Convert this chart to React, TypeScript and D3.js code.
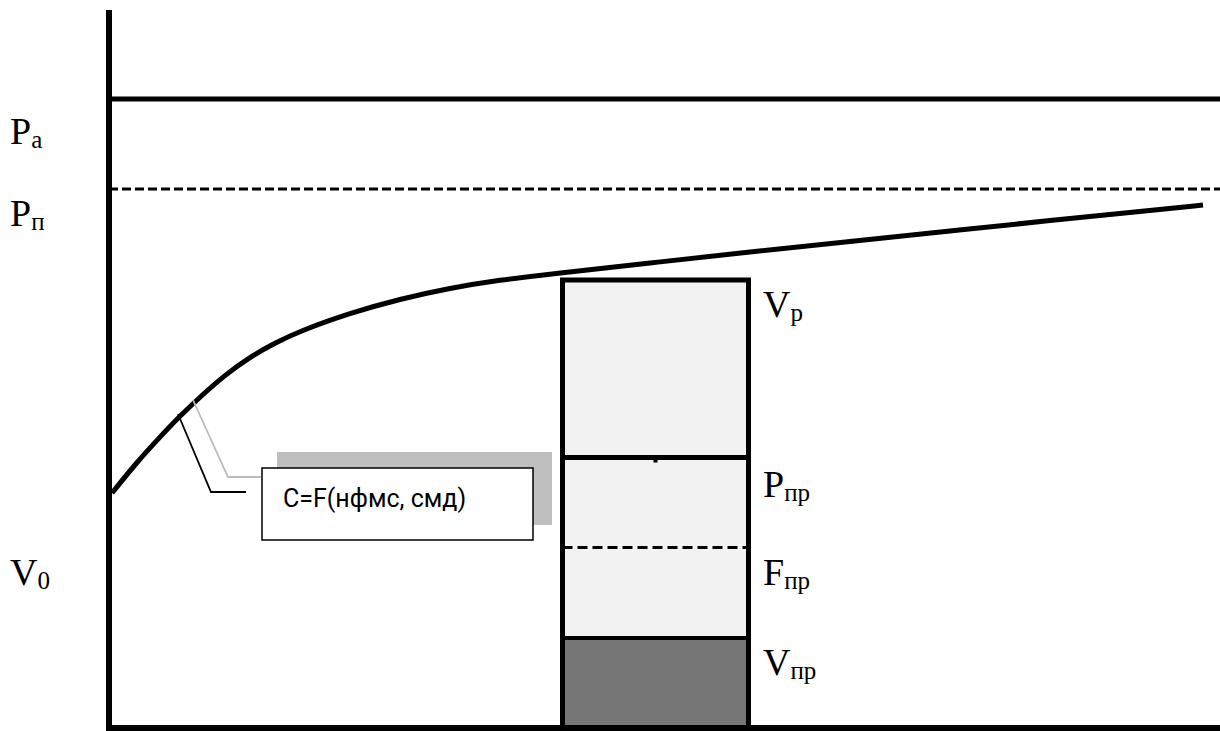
import React from "react";
import * as d3 from "d3";

// Curve C = F(нфмс, смд): x and value in chart units (origin at the axes corner)
const curveX = [3, 28, 51, 71, 91, 116, 141, 166, 191, 241, 291, 341, 391, 441, 541, 641, 741, 841, 941, 1041, 1094];
const curveV = [235, 266, 291, 312, 331, 353, 371, 385, 397, 415, 429, 440, 448, 454, 465, 476, 486.5, 497, 507.5, 517.5, 523];

// Levels
const levelPa = 629; // solid
const levelPn = 539; // dashed

// Column (box) segments: boundaries from top to bottom
const boxLeft = 453.5;
const boxRight = 639.5;
const boxBounds = [448, 270.5, 180.5, 90, 0];
const boxFillKinds = ["light", "light", "light", "dark"];

// Labels
const leftLabels = [
  { main: "P", sub: "a", v: 584 },
  { main: "P", sub: "п", v: 502 },
  { main: "V", sub: "0", v: 143 },
];
const rightLabels = [
  { main: "V", sub: "p", v: 411 },
  { main: "P", sub: "пр", v: 231 },
  { main: "F", sub: "пр", v: 143 },
  { main: "V", sub: "пр", v: 53 },
];

const annotationText = "C=F(нфмс, смд)";

export default function App() {
  const W = 1220;
  const H = 731;
  const x = d3.scaleLinear().domain([0, 1111]).range([109, 1220]);
  const y = d3.scaleLinear().domain([0, 718]).range([728, 10]);

  const pts: [number, number][] = curveX.map((cx, i) => [cx, curveV[i]]);
  const line = d3
    .line<[number, number]>()
    .x((d) => x(d[0]))
    .y((d) => y(d[1]))
    .curve(d3.curveBasis);

  const serif = "'Liberation Serif', 'Times New Roman', serif";
  const sans = "Roboto, 'Liberation Sans', Arial, sans-serif";

  const bx0 = x(boxLeft);
  const bx1 = x(boxRight);

  return (
    <svg
      width={W}
      height={H}
      style={{ position: "absolute", left: 0, top: 0, display: "block", background: "#fff" }}
    >
      {/* column fills */}
      {boxFillKinds.map((k, i) => (
        <rect
          key={i}
          x={bx0}
          y={y(boxBounds[i])}
          width={bx1 - bx0}
          height={y(boxBounds[i + 1]) - y(boxBounds[i])}
          fill={k === "dark" ? "#767676" : "#f2f2f2"}
        />
      ))}
      {/* column dividers */}
      <line x1={bx0} x2={bx1} y1={y(boxBounds[1])} y2={y(boxBounds[1])} stroke="#000" strokeWidth={5} />
      <line
        x1={bx0}
        x2={bx1}
        y1={y(boxBounds[2])}
        y2={y(boxBounds[2])}
        stroke="#000"
        strokeWidth={3}
        strokeDasharray="10,5"
      />
      <line x1={bx0} x2={bx1} y1={y(boxBounds[3])} y2={y(boxBounds[3])} stroke="#000" strokeWidth={4} />
      <rect x={(bx0 + bx1) / 2 - 2} y={y(boxBounds[1]) + 2} width={4} height={3} fill="#000" />
      {/* column outline */}
      <rect
        x={bx0}
        y={y(boxBounds[0])}
        width={bx1 - bx0}
        height={y(boxBounds[4]) - y(boxBounds[0])}
        fill="none"
        stroke="#000"
        strokeWidth={5}
      />

      {/* levels */}
      <line x1={x(0)} x2={W} y1={y(levelPa)} y2={y(levelPa)} stroke="#000" strokeWidth={5} />
      <line
        x1={x(0)}
        x2={W}
        y1={y(levelPn)}
        y2={y(levelPn)}
        stroke="#000"
        strokeWidth={3}
        strokeDasharray="9,4"
      />

      {/* curve */}
      <path d={line(pts) || ""} fill="none" stroke="#000" strokeWidth={5} />

      {/* axes */}
      <line x1={x(0)} x2={x(0)} y1={y(718)} y2={H} stroke="#000" strokeWidth={6} />
      <line x1={x(0) - 3} x2={W} y1={y(0)} y2={y(0)} stroke="#000" strokeWidth={6} />

      {/* annotation callout */}
      <rect x={277} y={452} width={275} height={73} fill="#bfbfbf" />
      <polyline points="193,400 228,477 261,477" fill="none" stroke="#bbbbbb" strokeWidth={1.8} />
      <polyline points="178,414 211,492 246,492" fill="none" stroke="#000" strokeWidth={1.8} />
      <rect x={262} y={468} width={271} height={72} fill="#fff" stroke="#000" strokeWidth={1.5} />
      <text x={283} y={507} fontFamily={sans} fontSize={25} fill="#000">
        {annotationText}
      </text>

      {/* labels */}
      {leftLabels.map((l, i) => (
        <text key={"l" + i} x={10} y={y(l.v)} fontFamily={serif} fontSize={38} fill="#000">
          {l.main}
          <tspan fontSize={25} dy={4}>
            {l.sub}
          </tspan>
        </text>
      ))}
      {rightLabels.map((l, i) => (
        <text key={"r" + i} x={763} y={y(l.v)} fontFamily={serif} fontSize={38} fill="#000">
          {l.main}
          <tspan fontSize={25} dy={4}>
            {l.sub}
          </tspan>
        </text>
      ))}
    </svg>
  );
}
